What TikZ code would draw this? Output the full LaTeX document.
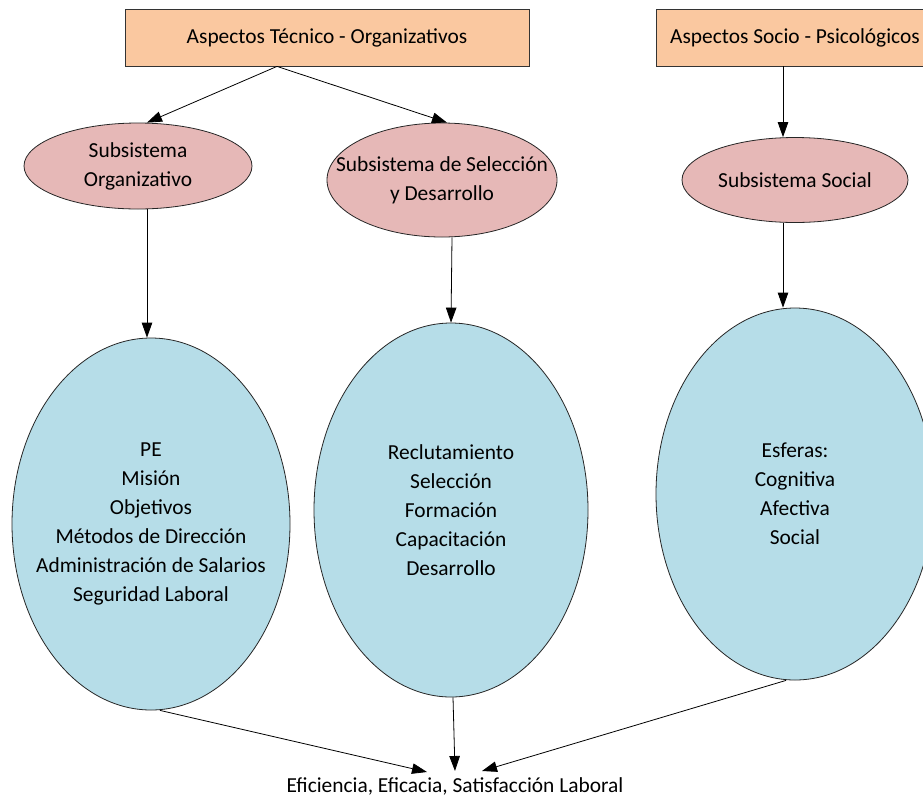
\documentclass[tikz,border=0pt]{standalone}
\usepackage{fontspec}
\setmainfont{Carlito}
\usetikzlibrary{shapes.geometric,arrows.meta}
\definecolor{boxfill}{HTML}{FAC8A0}
\definecolor{pinkfill}{HTML}{E6B8B7}
\definecolor{bluefill}{HTML}{B6DDE8}
\begin{document}
\begin{tikzpicture}[x=1pt,y=-1pt,
  font=\fontsize{21.4}{29}\selectfont,
  aspbox/.style={draw=black!80, fill=boxfill, line width=0.8pt, minimum height=57pt, inner sep=0pt},
  subell/.style={ellipse, draw=black!85, fill=pinkfill, line width=0.8pt, inner sep=0pt},
  bigell/.style={ellipse, draw=black!85, fill=bluefill, line width=0.8pt, inner sep=0pt},
  arr/.style={-{Triangle[length=15pt,width=10.5pt]}, line width=0.8pt}]
\useasboundingbox (0,0) rectangle (923,801);
\clip (0,0) rectangle (923,801);
\fill[white] (0,0) rectangle (923,801);

\node[aspbox, minimum width=404pt] (T) at (327,37.5) {Aspectos Técnico - Organizativos};
\node[aspbox, minimum width=278pt] (P) at (795,37.5) {Aspectos Socio - Psicológicos};

\node[subell, minimum width=228pt, minimum height=86pt,
  label={[align=center]center:{Subsistema\\Organizativo}}] (A) at (138,166) {};
\node[subell, minimum width=230pt, minimum height=114pt,
  label={[align=center]center:{Subsistema de Selección\\y Desarrollo}}] (B) at (442,180) {};
\node[subell, minimum width=226pt, minimum height=85pt,
  label={center:{Subsistema Social}}] (C) at (795,180) {};

\node[bigell, minimum width=278pt, minimum height=372pt,
  label={[align=center]center:{PE\\Misión\\Objetivos\\Métodos de Dirección\\Administración de Salarios\\Seguridad Laboral}}] (D) at (151,524) {};
\node[bigell, minimum width=274pt, minimum height=374pt,
  label={[align=center]center:{Reclutamiento\\Selección\\Formación\\Capacitación\\Desarrollo}}] (E) at (451,510) {};
\node[bigell, minimum width=278pt, minimum height=372pt,
  label={[align=center]center:{Esferas:\\Cognitiva\\Afectiva\\Social}}] (F) at (795,494) {};

\node (R) at (455,786) {Eficiencia, Eficacia, Satisfacción Laboral};
\coordinate (rL) at (427,772);
\coordinate (rM) at (455,771);
\coordinate (rR) at (482,771);

\draw[arr] ([xshift=-50pt]T.south) -- ([xshift=9pt]A.north);
\draw[arr] ([xshift=-50pt]T.south) -- ([xshift=5pt]B.north);
\draw[arr] ([xshift=-12pt]P.south) -- ([xshift=-12pt]C.north);
\draw[arr] ([xshift=9pt]A.south) -- ([xshift=-4pt]D.north);
\draw[arr] ([xshift=10pt]B.south) -- (E.north);
\draw[arr] ([xshift=-12pt]C.south) -- ([xshift=-12pt]F.north);
\draw[arr] ([xshift=9pt]D.south) -- (rL);
\draw[arr] ([xshift=2pt]E.south) -- (rM);
\draw[arr] ([xshift=-9pt]F.south) -- (rR);
\end{tikzpicture}
\end{document}
